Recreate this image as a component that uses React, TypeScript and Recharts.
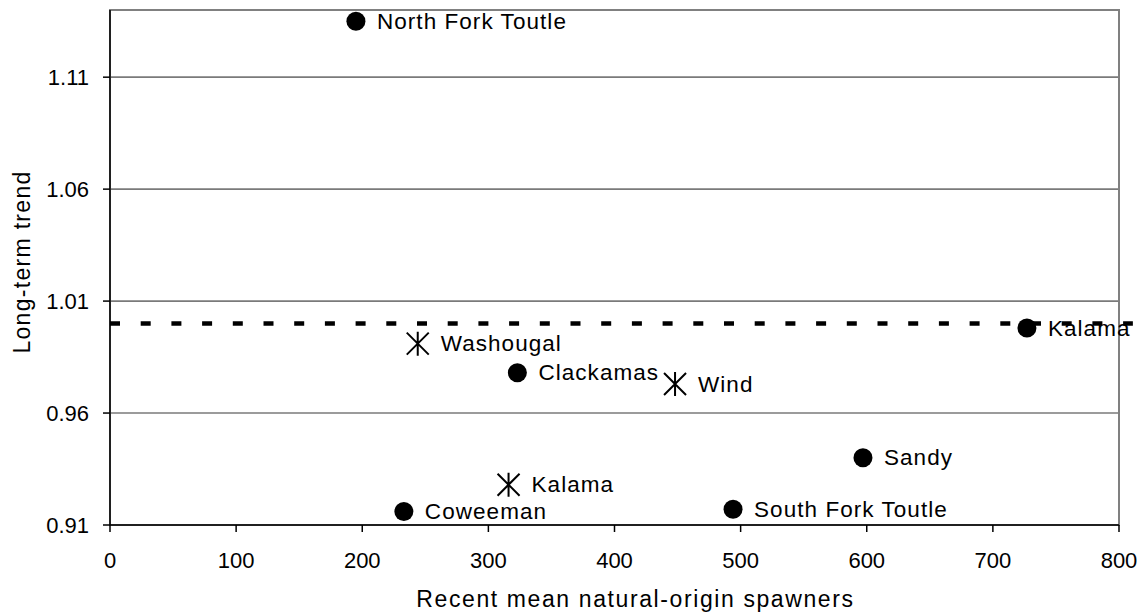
import {
  ScatterChart, Scatter, XAxis, YAxis, CartesianGrid, ReferenceLine, ReferenceArea, Label,
} from "recharts";

// populations drawn with filled circles
const circleNames = ["North Fork Toutle", "Kalama", "Clackamas", "Sandy", "Coweeman", "South Fork Toutle"];
const circleSpawners = [195, 727, 323, 597, 233, 494];
const circleTrend = [1.135, 0.998, 0.978, 0.94, 0.916, 0.917];

// populations drawn with star markers
const starNames = ["Washougal", "Wind", "Kalama"];
const starSpawners = [244, 448, 316];
const starTrend = [0.991, 0.973, 0.928];

const xTicks = [0, 100, 200, 300, 400, 500, 600, 700, 800];
const yTicks = [0.91, 0.96, 1.01, 1.06, 1.11];
const trendThreshold = 1.0;

const FONT = "'Liberation Sans', Arial, sans-serif";

const circleData = circleNames.map((name, i) => ({ name, x: circleSpawners[i], y: circleTrend[i] }));
const starData = starNames.map((name, i) => ({ name, x: starSpawners[i], y: starTrend[i] }));

function PointLabel({ x, y, text }: { x: number; y: number; text: string }) {
  return (
    <text x={x} y={y} dy="0.34em" fontFamily={FONT} fontSize={22.5} letterSpacing={1.05} fill="#000">
      {text}
    </text>
  );
}

function CircleMark(props: any) {
  const { cx, cy, payload } = props;
  return (
    <g>
      <circle cx={cx} cy={cy} r={9.5} fill="#000" />
      <PointLabel x={cx + 21} y={cy} text={payload.name} />
    </g>
  );
}

function StarMark(props: any) {
  const { cx, cy, payload } = props;
  const s = 11;
  return (
    <g>
      <path
        d={`M${cx - s},${cy - s}L${cx + s},${cy + s}M${cx - s},${cy + s}L${cx + s},${cy - s}M${cx},${cy - s - 1}L${cx},${cy + s + 1}`}
        stroke="#000"
        strokeWidth={2}
        fill="none"
      />
      <PointLabel x={cx + 23} y={cy} text={payload.name} />
    </g>
  );
}

export default function App() {
  return (
    <div style={{ position: "absolute", left: 0, top: 0, background: "#fff" }}>
      <ScatterChart width={1146} height={614} margin={{ top: 10, right: 27, bottom: 0, left: 0 }}>
        <ReferenceArea x1={0} x2={800} y1={0.91} y2={1.14} fill="none" stroke="#808080" strokeWidth={2} ifOverflow="visible" />
        <CartesianGrid vertical={false} stroke="#7a7a7a" strokeWidth={1.6} />
        <XAxis
          type="number"
          dataKey="x"
          domain={[0, 800]}
          ticks={xTicks}
          height={89}
          tickSize={7}
          tickMargin={20}
          axisLine={{ stroke: "#000", strokeWidth: 1.5 }}
          tickLine={{ stroke: "#000", strokeWidth: 1.5 }}
          tick={{ fill: "#000", fontSize: 22, fontFamily: FONT }}
        >
          <Label
            content={(p: any) => (
              <text
                x={p.viewBox.x + p.viewBox.width / 2 + 21}
                y={607}
                textAnchor="middle"
                fontFamily={FONT}
                fontSize={23}
                letterSpacing={1.6}
                fill="#000"
              >
                Recent mean natural-origin spawners
              </text>
            )}
          />
        </XAxis>
        <YAxis
          type="number"
          dataKey="y"
          domain={[0.91, 1.14]}
          ticks={yTicks}
          width={110}
          tickSize={7}
          tickMargin={14}
          axisLine={{ stroke: "#000", strokeWidth: 1.5 }}
          tickLine={{ stroke: "#000", strokeWidth: 1.5 }}
          tick={{ fill: "#000", fontSize: 22, fontFamily: FONT }}
        >
          <Label
            content={() => (
              <text
                x={30}
                y={262}
                transform="rotate(-90, 30, 262)"
                textAnchor="middle"
                fontFamily={FONT}
                fontSize={23}
                letterSpacing={1.3}
                fill="#000"
              >
                Long-term trend
              </text>
            )}
          />
        </YAxis>
        <ReferenceLine
          segment={[{ x: 0, y: trendThreshold }, { x: 811, y: trendThreshold }]}
          stroke="#000"
          strokeWidth={4.5}
          strokeDasharray="10 20.7"
          ifOverflow="visible"
        />
        <Scatter data={circleData} shape={CircleMark} isAnimationActive={false} />
        <Scatter data={starData} shape={StarMark} isAnimationActive={false} />
      </ScatterChart>
    </div>
  );
}
